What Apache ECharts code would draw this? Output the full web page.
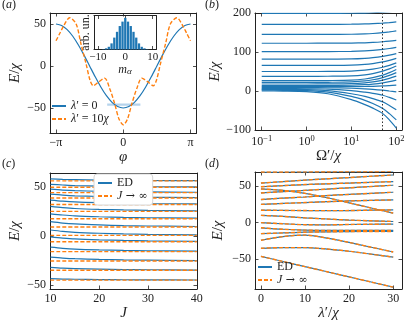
<!DOCTYPE html>
<html>
<head>
<meta charset="utf-8">
<script src="https://cdn.jsdelivr.net/npm/echarts@6/dist/echarts.min.js"></script>
<style>
html, body { margin: 0; background: #fff; }
#chart { width: 411px; height: 329px; }
</style>
</head>
<body>
<div id="chart"></div>
<script>
// (a) energy vs phase
const PHI_BLUE = [-3.1416, -2.8798, -2.618, -2.3562, -2.0944, -1.8326, -1.5708, -1.309, -1.0472, -0.7854, -0.5236, -0.2618, 0,
  0.2618, 0.5236, 0.7854, 1.0472, 1.309, 1.5708, 1.8326, 2.0944, 2.3562, 2.618, 2.8798, 3.1416]
const E_BLUE = [50, 48.3, 43.3, 35.4, 25, 12.9, 0, -12.9, -25, -35.4, -43.3, -48.3, -50,
  -48.3, -43.3, -35.4, -25, -12.9, 0, 12.9, 25, 35.4, 43.3, 48.3, 50]
const PHI_ORANGE = [-3.14, -2.96, -2.8, -2.5, -2.2, -1.98, -1.73, -1.55, -1.4, -1.15, -0.87, -0.63, -0.4, -0.2, 0,
  0.2, 0.4, 0.63, 0.87, 1.15, 1.4, 1.55, 1.73, 1.98, 2.2, 2.5, 2.8, 2.96, 3.14]
const E_ORANGE = [30, 39, 47, 57.5, 50, 27, 2, -17, -23.5, -19, -14.5, -27, -45, -63, -70,
  -63, -45, -27, -14.5, -19, -23.5, -17, 2, 27, 50, 57.5, 47, 39, 30]
const BAND_PHI = [-0.75, 0.8]
const BAND_E = [-46, -46]
// inset histogram
const M_VALUES = [-8, -7, -6, -5, -4, -3, -2, -1, 0, 1, 2, 3, 4, 5, 6, 7, 8]
const M_WEIGHTS = [0.01, 0.035, 0.08, 0.18, 0.35, 0.52, 0.69, 0.82, 0.93, 0.82, 0.69, 0.52, 0.35, 0.18, 0.08, 0.035, 0.01]

// (b) spectrum vs Omega'
const OMEGA = [0.1, 0.3, 1, 3, 10, 20, 30, 50, 70, 100]
const B_LEVELS = [
  [0, -0.2, -1.5, -7, -22, -35, -44, -58, -74, -95],
  [2, 1.8, 1, -3, -14, -24, -32, -45, -58, -74],
  [4, 3.9, 3.4, 1, -7, -14, -19.5, -28, -37, -48],
  [6, 6, 5.8, 5, 1, -3, -6, -11, -16.5, -23],
  [8.5, 8.5, 8.5, 8.3, 7, 5.5, 4.3, 2, 0, -2],
  [11, 11, 11, 11, 11.2, 11.6, 12.1, 13, 13.9, 15],
  [14, 14, 14, 14.1, 14.7, 16.1, 17.8, 21, 24.1, 28],
  [18, 18, 18, 18.2, 19, 21, 23.4, 28, 32.4, 38],
  [22, 22, 22, 22.3, 23.3, 25.8, 28.8, 34.5, 40, 47],
  [26.5, 26.5, 26.5, 26.8, 27.9, 30.8, 34.2, 40.8, 47, 55],
  [37.5, 37.5, 37.5, 37.8, 38.8, 41.5, 44.7, 50.8, 56.6, 64],
  [50, 50, 50, 50.2, 51.1, 53.3, 55.9, 61, 65.8, 72],
  [65.5, 65.5, 65.5, 65.7, 66.4, 68.2, 70.4, 74.5, 78.5, 83.5],
  [81.5, 81.5, 81.5, 81.6, 82.2, 83.7, 85.4, 88.8, 92, 96],
  [101, 101, 101, 101.1, 101.6, 102.7, 104, 106.5, 108.9, 112],
  [122.5, 122.5, 122.5, 122.6, 122.9, 123.6, 124.5, 126.3, 127.9, 130],
  [145, 145, 145, 145.1, 145.5, 146.4, 147.4, 149.5, 151.5, 154],
  [171, 171, 171, 171, 171.3, 171.9, 172.6, 174, 175.3, 177],
  [199, 199, 199, 199, 199.3, 199.9, 200.6, 202, 203.3, 205]
]
const B_MARK = 48

// (c) ED vs J and J -> infinity limit
const J_VALUES = [10, 12.5, 15, 20, 25, 30, 40]
const C_LIMIT = [56, 49.5, 44, 38.5, 32, 25, 17.5, 9, 0.5, -6, -16, -25.5, -35, -45]
const C_ED = [
  [58, 57.5, 57.2, 56.8, 56.6, 56.4, 56.2],
  [52.5, 51.8, 51.2, 50.7, 50.3, 50.1, 49.8],
  [47.5, 46.6, 46, 45.4, 45, 44.7, 44.4],
  [42.5, 41.5, 40.8, 40.1, 39.6, 39.3, 38.9],
  [36.5, 35.4, 34.6, 33.8, 33.3, 32.9, 32.5],
  [30, 28.8, 27.9, 27, 26.4, 26, 25.5],
  [22.5, 21.3, 20.4, 19.5, 18.9, 18.5, 18],
  [14.5, 13.1, 12.2, 11.2, 10.5, 10.1, 9.6],
  [6, 4.6, 3.7, 2.7, 2, 1.6, 1.1],
  [-1, -2.2, -3.1, -4, -4.6, -5, -5.5],
  [-11.5, -12.6, -13.4, -14.2, -14.7, -15.1, -15.5],
  [-21.5, -22.5, -23.2, -23.9, -24.4, -24.7, -25.1],
  [-32, -32.8, -33.3, -33.8, -34.2, -34.4, -34.7],
  [-43.5, -43.9, -44.1, -44.4, -44.6, -44.7, -44.85]
]

// (d) spectrum vs lambda'
const LAMBDA = [0, 5, 10, 15, 20, 25, 30]
const D_LEVELS = [
  [69, 69.1, 69.3, 69.5, 69.6, 69.8, 70],
  [54, 56, 58, 59.8, 61.5, 63.3, 65],
  [49, 50.5, 52, 53, 54, 55, 56],
  [40.5, 42.3, 44, 45.8, 47.5, 49.3, 51],
  [46, 44, 40, 34, 27, 20, 13],
  [31.5, 33.5, 35, 37, 38.5, 40, 41.5],
  [25, 26.2, 27.4, 28.6, 29.6, 30.4, 31],
  [17, 16.7, 16.5, 16.4, 16.5, 17, 17.5],
  [10, 8.5, 6.5, 5, 3.5, 2.5, 1.6],
  [0, -1.5, -2.8, -3, -2.5, -2.2, -2],
  [-7, -9, -10.2, -10.5, -10.5, -10.5, -10.5],
  [-15, -14, -13, -12.5, -12.2, -12, -12],
  [-24, -19, -17, -21, -27, -33.5, -40],
  [-35, -34, -34, -36, -39, -43, -47],
  [-46, -53, -60, -67, -74, -81, -88]
]

const BLUE = '#1f77b4'
const ORANGE = '#ff7f0e'
const INK = '#222'
const SERIF = '"Liberation Serif", "DejaVu Serif", serif'
const RICH = {
  i: { fontStyle: 'italic', fontFamily: SERIF, fontSize: 15, color: INK },
  u: { fontFamily: SERIF, fontSize: 15, color: INK },
  sup: { fontFamily: SERIF, fontSize: 8.5, color: INK, verticalAlign: 'top', padding: [0, 0, 7, 0] },
  sub: { fontStyle: 'italic', fontFamily: SERIF, fontSize: 9, color: INK, padding: [5, 0, 0, 0] },
  li: { fontStyle: 'italic', fontFamily: SERIF, fontSize: 12, color: INK },
  lu: { fontFamily: SERIF, fontSize: 12, color: INK },
  ar: { fontFamily: '"DejaVu Serif", serif', fontSize: 11, color: INK }
}

const minus = v => (v < 0 ? '\u2212' + (-v) : String(v))

function axisPair(dir, grid, o) {
  const main = dir === 'x' ? 'bottom' : 'left'
  const other = dir === 'x' ? 'top' : 'right'
  return [main, other].map((pos, k) => ({
    type: o.type || 'value',
    gridIndex: grid,
    position: pos,
    min: o.min,
    max: o.max,
    logBase: 10,
    axisLine: { show: true, onZero: false, lineStyle: { color: INK, width: 1 } },
    axisTick: { show: o.ticks.length > 0, inside: true, length: 3.5, customValues: o.ticks, lineStyle: { color: INK, width: 0.8 } },
    axisLabel: {
      show: k === 0 && o.ticks.length > 0,
      customValues: o.ticks,
      formatter: o.fmt || minus,
      margin: o.margin || 4,
      color: INK,
      fontFamily: SERIF,
      fontSize: o.fontSize || 12,
      rich: RICH
    },
    splitLine: { show: false },
    name: k === 0 ? o.name : '',
    nameLocation: 'middle',
    nameGap: o.gap,
    nameTextStyle: { fontFamily: SERIF, fontSize: o.nameSize || 15, color: INK, rich: RICH }
  }))
}

const xAxes = [
  ...axisPair('x', 0, { min: -3.42, max: 3.42, ticks: [-Math.PI, 0, Math.PI],
    fmt: v => (v < -1 ? '\u2212\u03c0' : v > 1 ? '\u03c0' : '0'), name: '{i|\u03c6}', gap: 13 }),
  ...axisPair('x', 1, { type: 'log', min: 0.0708, max: 134, ticks: [0.1, 1, 10, 100],
    fmt: v => { const e = Math.round(Math.log10(v)); return '10{sup|' + minus(e) + '}' },
    name: '{u|\u03a9\u2032/}{i|\u03c7}', gap: 18 }),
  ...axisPair('x', 2, { min: 9.9, max: 40.05, ticks: [10, 20, 30, 40], name: '{i|J}', gap: 14 }),
  ...axisPair('x', 3, { min: -1.35, max: 32, ticks: [0, 10, 20, 30], name: '{i|\u03bb}{u|\u2032/}{i|\u03c7}', gap: 14 }),
  ...axisPair('x', 4, { min: -11.4, max: 11.2, ticks: [-10, 0, 10], fontSize: 11, margin: 2,
    name: '{li|m}{sub|\u03b1}', nameSize: 12, gap: 7 })
]
const yAxes = [
  ...axisPair('y', 0, { min: -79.8, max: 63.1, ticks: [-50, 0, 50], name: '{i|E}{u|/}{i|\u03c7}', gap: 27 }),
  ...axisPair('y', 1, { min: -100, max: 200, ticks: [-100, 0, 100, 200], name: '{i|E}{u|/}{i|\u03c7}', gap: 30 }),
  ...axisPair('y', 2, { min: -54, max: 64, ticks: [-50, 0, 50], name: '{i|E}{u|/}{i|\u03c7}', gap: 27 }),
  ...axisPair('y', 3, { min: -90.5, max: 69.1, ticks: [-50, 0, 50], name: '{i|E}{u|/}{i|\u03c7}', gap: 29 }),
  ...axisPair('y', 4, { min: 0, max: 1, ticks: [], name: '{lu|arb. un.}', nameSize: 11, gap: 2 })
]

const series = []
function line(grid, name, xs, ys, color, dashed, extra) {
  series.push(Object.assign({
    type: 'line',
    name: name,
    xAxisIndex: grid * 2,
    yAxisIndex: grid * 2,
    data: xs.map((x, i) => [x, ys[i]]),
    symbol: 'none',
    smooth: 0.3,
    silent: true,
    z: dashed ? 3 : 2,
    itemStyle: { color: color },
    lineStyle: { color: color, width: dashed ? 1.4 : 1.2, type: dashed ? [4, 2] : 'solid' }
  }, extra || {}))
}

// (a)
line(0, 'band', BAND_PHI, BAND_E, '#b5d3ec', false, { lineStyle: { color: '#b5d3ec', width: 2.2 }, z: 1 })
line(0, '\u03bb\u2032 = 0', PHI_BLUE, E_BLUE, BLUE, false)
line(0, '\u03bb\u2032 = 10\u03c7', PHI_ORANGE, E_ORANGE, ORANGE, true)
series.push({
  type: 'bar', name: 'hist', xAxisIndex: 8, yAxisIndex: 8, barWidth: 2.3, silent: true, z: 6,
  itemStyle: { color: BLUE },
  data: M_VALUES.map((m, i) => [m, M_WEIGHTS[i]])
})

// (b)
B_LEVELS.forEach((lv, k) => {
  line(1, 'b' + k, OMEGA, lv, BLUE, false, k === 0 ? {
    markLine: { silent: true, symbol: ['none', 'none'], label: { show: false },
      lineStyle: { color: '#333', type: [1.5, 2], width: 1 }, data: [{ xAxis: B_MARK }] }
  } : {})
})

// (c)
C_ED.forEach(lv => line(2, 'ED', J_VALUES, lv, BLUE, false))
C_LIMIT.forEach(v => line(2, 'J \u2192 \u221e', [J_VALUES[0], J_VALUES[J_VALUES.length - 1]], [v, v], ORANGE, true))

// (d)
D_LEVELS.forEach(lv => line(3, 'ED', LAMBDA, lv, BLUE, false))
D_LEVELS.forEach(lv => line(3, 'J \u2192 \u221e', LAMBDA, lv, ORANGE, true))

const legendText = name => {
  if (name === 'ED') return '{lu|ED}'
  if (name.indexOf('J') === 0) return '{li|J}{ar| \u2192 \u221e}'
  if (name.indexOf('10') > 0) return '{li|\u03bb}{lu|\u2032 = 10}{li|\u03c7}'
  return '{li|\u03bb}{lu|\u2032 = 0}'
}
const legendBase = {
  orient: 'vertical', itemWidth: 14, itemHeight: 8, padding: 0, z: 10,
  formatter: legendText, selectedMode: false,
  itemStyle: { opacity: 0 },
  textStyle: { fontFamily: SERIF, fontSize: 12, color: INK, rich: RICH }
}

const chart = echarts.init(document.getElementById('chart'))
chart.setOption({
  animation: false,
  backgroundColor: '#fff',
  grid: [
    { left: 50, top: 13, width: 146.5, height: 120 },
    { left: 255, top: 13, width: 147, height: 117 },
    { left: 50, top: 173, width: 147, height: 116 },
    { left: 255, top: 172, width: 147, height: 117 },
    { left: 94, top: 15.5, width: 62, height: 34 }
  ],
  xAxis: xAxes,
  yAxis: yAxes,
  legend: [
    Object.assign({}, legendBase, { data: ['\u03bb\u2032 = 0', '\u03bb\u2032 = 10\u03c7'], left: 51, top: 100, itemGap: 1 }),
    Object.assign({}, legendBase, { data: ['ED', 'J \u2192 \u221e'], left: 94, top: 174, itemGap: 1,
      padding: [3, 5, 3, 3], backgroundColor: '#fff', borderColor: '#d6d6d6', borderWidth: 1, borderRadius: 3 }),
    Object.assign({}, legendBase, { data: ['ED', 'J \u2192 \u221e'], left: 257, top: 261, itemGap: 1 })
  ],
  graphic: [
    { type: 'text', left: 2, top: -1, style: { text: '({li|a})', font: '12px ' + SERIF, fill: INK, rich: RICH } },
    { type: 'text', left: 205, top: -1, style: { text: '({li|b})', font: '12px ' + SERIF, fill: INK, rich: RICH } },
    { type: 'text', left: 2, top: 158, style: { text: '({li|c})', font: '12px ' + SERIF, fill: INK, rich: RICH } },
    { type: 'text', left: 205, top: 158, style: { text: '({li|d})', font: '12px ' + SERIF, fill: INK, rich: RICH } }
  ],
  series: series
})
</script>
</body>
</html>
